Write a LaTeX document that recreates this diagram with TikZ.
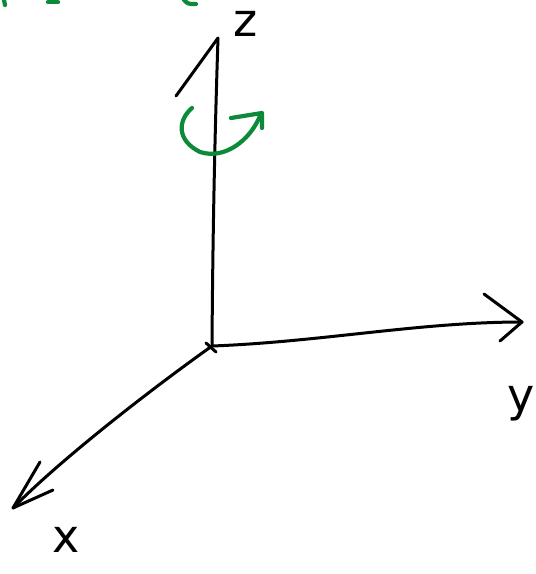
\documentclass[tikz,border=0pt]{standalone}
\usepackage{fontspec}
\setmainfont{DejaVu Sans}
\usetikzlibrary{arrows.meta}
\definecolor{axisInk}{HTML}{000000}
\definecolor{rotGreen}{HTML}{0B8A3A}
\tikzset{
  axes sketch/.style={
    x=1pt, y=-1pt,
    line cap=round, line join=round,
    every node/.style={font=\fontsize{46}{46}\selectfont,
      text=axisInk, inner sep=0pt, outer sep=0pt}
  },
  axis line/.style={draw=axisInk, line width=3pt},
  rot line/.style={draw=rotGreen, line width=4.2pt}
}

\begin{document}
\begin{tikzpicture}[axes sketch]
    \useasboundingbox (0,0) rectangle (536,574);
    % axes
    \coordinate (O) at (212,346);
    \coordinate (zTip) at (218,38);
    \coordinate (yTip) at (522,322);
    \coordinate (xTip) at (13,508);
    \draw[axis line] (O) .. controls (213,200) and (216,100) .. (zTip);
    \draw[axis line] (O) .. controls (320,342) and (420,322) .. (yTip);
    \draw[axis line] (O) .. controls (150,390) and (60,460) .. (xTip);
    \draw[axis line] (206,343) -- (216,352);
    % hand drawn tips
    \draw[axis line] (176,96) -- (zTip);
    \draw[axis line] (484,294) -- (yTip) -- (500,341);
    \draw[axis line] (40,462) -- (xTip) -- (53,490);
    % labels
    \node (zLab) at (246,24) {z};
    \node (yLab) at (521,404) {y};
    \node (xLab) at (66,540) {x};
    % rotation about z
    \draw[rot line] (192,108) .. controls (178,120) and (176,140) .. (200,152)
      .. controls (225,160) and (250,140) .. (260,116);
    \draw[rot line] (231,118) -- (262,113) -- (262,128);
    % cut off text at top
    \draw[rot line] (4,0) -- (5,5);
    \draw[rot line] (48,2) -- (58,2);
    \draw[rot line] (184,0) .. controls (188,4) .. (196,4);
\end{tikzpicture}
\end{document}
